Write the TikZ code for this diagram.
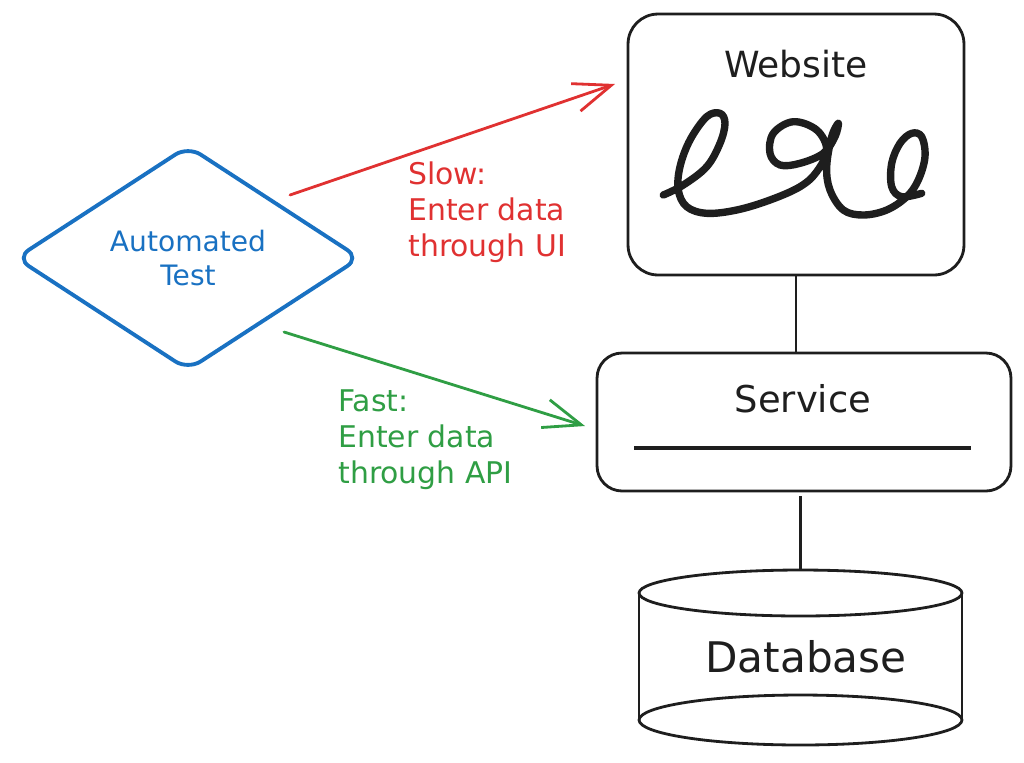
\documentclass[tikz,border=0pt]{standalone}
\usepackage{fontspec}
\setmainfont{DejaVu Sans}
\usetikzlibrary{shapes.geometric,arrows.meta}
\definecolor{exblue}{HTML}{1971C2}
\definecolor{exred}{HTML}{E03131}
\definecolor{exgreen}{HTML}{2F9E44}
\definecolor{exblack}{HTML}{1E1E1E}
\begin{document}
\begin{tikzpicture}[x=0.02cm,y=-0.02cm,
  box/.style={draw=exblack, line width=1.6pt, inner sep=0pt},
  conn/.style={draw=exblack, line width=1.6pt},
  arr/.style={line width=1.6pt, line cap=round, -{Straight Barb[length=0.75cm,width=0.58cm,line width=1.6pt]}},
  lbl/.style={align=left, inner sep=0pt, font=\fontsize{17}{20.6}\selectfont},
  title/.style={text=exblack, inner sep=0pt},
  scribble/.style={draw=exblack, line width=4.2pt, line cap=round, line join=round}
]
\useasboundingbox (0,0) rectangle (1024,762);

% Website
\node[box, rounded corners=0.6cm, minimum width=6.72cm, minimum height=5.22cm] (web) at (796,144.5) {};
\node[title, font=\fontsize{20.5}{24}\selectfont] (webt) at (796,64) {Website};
\draw[scribble] plot[smooth, tension=0.6] coordinates {
 (663.3,195) (683.3,185) (706.7,166.7) (720,143.3) (725,123.3) (720,113.3)
 (706.7,116.7) (690,140) (680,166.7) (678.3,190) (686.7,206.7) (706.7,213.3)
 (736.7,210) (770,200) (800,186.7) (816.7,171.7) (826.7,150) (816.7,130)
 (793.3,121.7) (773.3,133.3) (770,153.3) (780,165) (800,163.3) (823.3,153.3)
 (835,136.7) (838.3,123.3) (831.7,136.7) (826.7,166.7) (830,190) (843.3,210)
 (863.3,215) (886.7,210) (906.7,196.7) (918.3,180) (925,156.7) (921.7,136.7)
 (911.7,133.3) (900,143.3) (891.7,163.3) (891.7,186.7) (901.7,196.7) (921.7,193.3)};

% Service
\node[box, rounded corners=0.5cm, minimum width=8.28cm, minimum height=2.76cm] (svc) at (804,422) {};
\node[title, font=\fontsize{21}{25}\selectfont] (svct) at (803,399) {Service};
\coordinate (svcl) at (634,448);
\coordinate (svcr) at (971,448);
\draw[exblack, line width=2.4pt] (svcl) -- (svcr);

% Database
\node[title, minimum width=6.46cm, minimum height=3.46cm, font=\fontsize{24}{28}\selectfont] (db) at (806,656.5) {Database};
\coordinate (dbtop) at (800.5,570);
\draw[conn] (800.5,593) ellipse [x radius=3.23cm, y radius=0.46cm];
\draw[conn] (800.5,720) ellipse [x radius=3.23cm, y radius=0.5cm];
\draw[conn] (639,593) -- (639,720);
\draw[conn] (962,593) -- (962,720);

% connectors
\draw[conn] (web.south) -- (web.south |- svc.north);
\draw[conn] ([yshift=-0.08cm]dbtop |- svc.south) -- (dbtop);

% Automated test
\node[diamond, draw=exblue, line width=2.2pt, rounded corners=0.3cm, aspect=1.535,
      minimum width=6.9cm, minimum height=4.5cm, inner sep=0pt, text=exblue,
      align=center, font=\fontsize{16}{19.8}\selectfont] (at) at (188,258) {Automated\\Test};

% arrows
\coordinate (rs) at (290,195);
\coordinate (re) at (615,84);
\draw[arr, exred] (rs) -- (re);
\coordinate (gs) at (284,332);
\coordinate (ge) at (585,426);
\draw[arr, exgreen] (gs) -- (ge);

% labels
\node[lbl, text=exred, anchor=west] (slow) at (408,212) {Slow:\\Enter data\\through UI};
\node[lbl, text=exgreen, anchor=west] (fast) at (338,440) {Fast:\\Enter data\\through API};
\end{tikzpicture}
\end{document}
